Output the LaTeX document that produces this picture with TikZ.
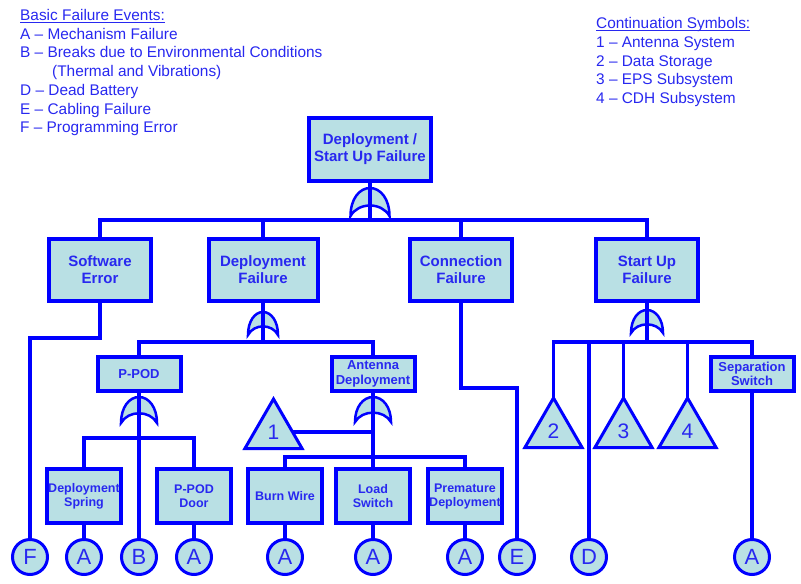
\documentclass[tikz,border=0pt]{standalone}
\usepackage{fontspec}
\setmainfont{Liberation Sans}
\usetikzlibrary{shapes.geometric}

\definecolor{ftline}{RGB}{0,0,255}
\definecolor{ftfill}{RGB}{185,224,228}
\definecolor{fttext}{RGB}{40,40,240}

\tikzset{
  link/.style={draw=ftline, line width=3.5pt},
  evbox/.style={draw=ftline, line width=4pt, fill=ftfill, text=fttext, align=center,
    inner sep=0pt, outer sep=0pt},
  bigbox/.style={evbox, minimum height=62pt, font=\fontsize{15}{17}\selectfont\bfseries},
  midbox/.style={evbox, minimum height=34pt, minimum width=83pt, font=\fontsize{13}{14.5}\selectfont\bfseries},
  smallbox/.style={evbox, minimum height=54pt, minimum width=74pt, font=\fontsize{12.5}{14}\selectfont\bfseries},
  basic/.style={circle, draw=ftline, line width=3pt, fill=ftfill, text=fttext,
    minimum size=35pt, inner sep=0pt, outer sep=0pt, font=\fontsize{22}{22}\selectfont},
  transfer/.style={regular polygon, regular polygon sides=3, draw=ftline, line width=3pt,
    fill=ftfill, text=fttext, minimum size=66pt, inner sep=0pt, outer sep=0pt,
    font=\fontsize{21}{21}\selectfont},
  legend/.style={anchor=base west, inner sep=0pt, text=fttext, font=\fontsize{15.4}{18}\selectfont},
  headrule/.style={draw=fttext, line width=0.9pt},
  % OR gate: half width #1, height #2, origin at the middle of its base
  pics/orgate/.style 2 args={code={
    \filldraw[draw=ftline, line width=2.5pt, fill=ftfill]
      (-#1,0) .. controls (-#1,-0.6*#2) and (-0.55*#1,-#2) .. (0,-#2)
      .. controls (0.55*#1,-#2) and (#1,-0.6*#2) .. (#1,0)
      .. controls (0.6*#1,-0.5*#2) and (-0.6*#1,-0.5*#2) .. (-#1,0) -- cycle;
  }},
}
\newcommand{\tnum}[1]{\raisebox{-3.5pt}{#1}}

\begin{document}
\begin{tikzpicture}[x=1pt, y=-1pt]
\fill[white] (0,0) rectangle (801,584);
\useasboundingbox (0,0) rectangle (801,584);

% legends
\node[legend] (lg0) at (20,20.5) {Basic Failure Events:};
\draw[headrule] ([yshift=-1.8pt]lg0.base west) -- ([yshift=-1.8pt]lg0.base east);
\node[legend] (lg1) at (20,39.2) {A – Mechanism Failure};
\node[legend] (lg2) at (20,57.9) {B – Breaks due to Environmental Conditions};
\node[legend] (lg3) at (52,76.6) {(Thermal and Vibrations)};
\node[legend] (lg4) at (20,95.3) {D – Dead Battery};
\node[legend] (lg5) at (20,114) {E – Cabling Failure};
\node[legend] (lg6) at (20,132.7) {F – Programming Error};

\node[legend] (cs0) at (596,28.4) {Continuation Symbols:};
\draw[headrule] ([yshift=-1.8pt]cs0.base west) -- ([yshift=-1.8pt]cs0.base east);
\node[legend] (cs1) at (596,47.2) {1 – Antenna System};
\node[legend] (cs2) at (596,66) {2 – Data Storage};
\node[legend] (cs3) at (596,84.8) {3 – EPS Subsystem};
\node[legend] (cs4) at (596,103.6) {4 – CDH Subsystem};

% OR gates
\pic at (370,216) {orgate={19.5}{28}};
\pic at (263,335) {orgate={15}{23}};
\pic at (647,333) {orgate={16}{23}};
\pic at (139,423) {orgate={18}{26}};
\pic at (373,422) {orgate={18}{25}};

% events
\node[bigbox, minimum width=122pt, minimum height=63pt] (top) at (370,149.5) {Deployment /\\Start Up Failure};
\node[bigbox, minimum width=102pt] (sw)  at (100,270) {Software\\Error};
\node[bigbox, minimum width=109pt] (dep) at (263,270) {Deployment\\Failure};
\node[bigbox, minimum width=102pt] (con) at (461,270) {Connection\\Failure};
\node[bigbox, minimum width=102pt] (su)  at (647,270) {Start Up\\Failure};

\node[midbox] (ppod) at (139,374) {P-POD};
\node[midbox] (ant)  at (373,374) {Antenna\\Deployment};
\node[midbox] (sep)  at (752,374) {Separation\\Switch};

\node[smallbox] (spring) at (84,496)  {Deployment\\Spring};
\node[smallbox] (door)   at (194,496) {P-POD\\Door};
\node[smallbox] (burn)   at (285,496) {Burn Wire};
\node[smallbox] (load)   at (373,496) {Load\\Switch};
\node[smallbox] (prem)   at (465,496) {Premature\\Deployment};

% transfer symbols
\node[transfer] (t1) at (273.5,432) {\tnum{1}};
\node[transfer] (t2) at (553.5,431) {\tnum{2}};
\node[transfer] (t3) at (623.5,431) {\tnum{3}};
\node[transfer] (t4) at (687.5,431) {\tnum{4}};

% basic events
\node[basic] (cF)  at (30,557)  {F};
\node[basic] (cA1) at (84,557)  {A};
\node[basic] (cB)  at (139,557) {B};
\node[basic] (cA2) at (194,557) {A};
\node[basic] (cA3) at (285,557) {A};
\node[basic] (cA4) at (373,557) {A};
\node[basic] (cA5) at (465,557) {A};
\node[basic] (cE)  at (517,557) {E};
\node[basic] (cD)  at (589,557) {D};
\node[basic] (cA6) at (752,557) {A};

% junction points
\coordinate (j0) at (370,220);
\coordinate (j1) at (263,342);
\coordinate (j2) at (139,438);
\coordinate (j3) at (647,342);
\coordinate (jb) at (373,457);
\coordinate (swk) at (30,338);
\coordinate (conk) at (517,388);

% top level
\draw[link] (top.south) -- (j0);
\draw[link] (j0) -| (sw.north);
\draw[link] (j0) -| (dep.north);
\draw[link] (j0) -| (con.north);
\draw[link] (j0) -| (su.north);

% software error
\draw[link] (sw.south) |- (swk) -- (cF.north);

% deployment failure
\draw[link] (dep.south) -- (j1);
\draw[link] (j1) -| (ppod.north);
\draw[link] (j1) -| (ant.north);

% P-POD
\draw[link] (ppod.south) -- (cB.north);
\draw[link] (j2) -| (spring.north);
\draw[link] (j2) -| (door.north);

% antenna deployment
\draw[link] (ant.south) -- (load.north);
\draw[link] (t1.east) -- (t1.east -| ant.south);
\draw[link] (jb) -| (burn.north);
\draw[link] (jb) -| (prem.north);

% connection failure
\draw[link] (con.south) |- (conk) -- (cE.north);

% start up failure
\draw[link] (su.south) -- (j3);
\draw[link] (j3) -| (t2.corner 1);
\draw[link] (j3) -| (cD.north);
\draw[link] (j3) -| (t3.corner 1);
\draw[link] (j3) -| (t4.corner 1);
\draw[link] (j3) -| (sep.north);

% leaves
\draw[link] (spring.south) -- (cA1.north);
\draw[link] (door.south) -- (cA2.north);
\draw[link] (burn.south) -- (cA3.north);
\draw[link] (load.south) -- (cA4.north);
\draw[link] (prem.south) -- (cA5.north);
\draw[link] (sep.south) -- (cA6.north);
\end{tikzpicture}
\end{document}
